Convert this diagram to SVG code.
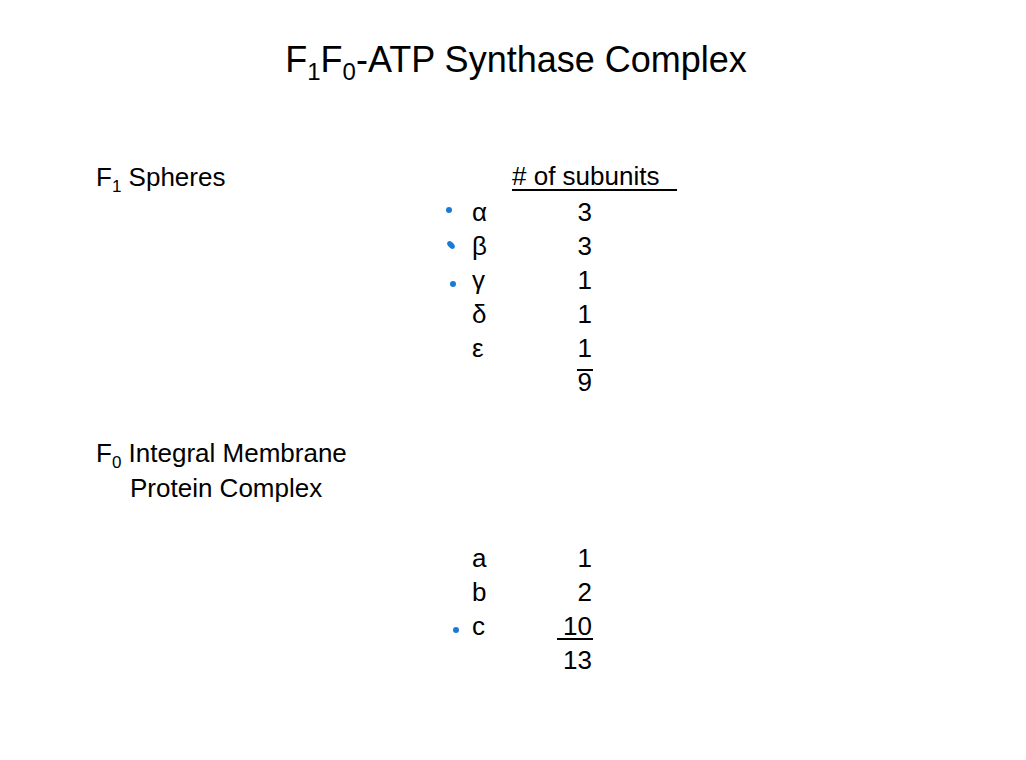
<svg xmlns="http://www.w3.org/2000/svg" width="1026" height="760" viewBox="0 0 1026 760">
<style>
text{font-family:"Liberation Sans",Arial,sans-serif;fill:#000}
.b{font-size:26px}
.t{font-size:36px}
.n{text-anchor:end}
.dot{fill:#1a7ad8}
</style>
<rect width="1026" height="760" fill="#fff"/>
<text class="t" x="516" y="72" text-anchor="middle">F<tspan font-size="24" dy="8">1</tspan><tspan dy="-8">F</tspan><tspan font-size="24" dy="8">0</tspan><tspan dy="-8">-ATP Synthase Complex</tspan></text>
<g id="f1">
<text class="b" x="96" y="186">F<tspan font-size="17" dy="6">1</tspan><tspan dy="-6"> Spheres</tspan></text>
<text class="b" x="512" y="185">#&#160;of subunits</text>
<line x1="512" y1="190" x2="677" y2="190" stroke="#000" stroke-width="2"/>
<text class="b" x="472" y="221">α</text><text class="b n" x="592" y="221">3</text>
<text class="b" x="472" y="255">β</text><text class="b n" x="592" y="255">3</text>
<text class="b" x="472" y="289">γ</text><text class="b n" x="592" y="289">1</text>
<text class="b" x="472" y="323">δ</text><text class="b n" x="592" y="323">1</text>
<text class="b" x="472" y="357">ε</text><text class="b n" x="592" y="357">1</text>
<line x1="577" y1="370" x2="593" y2="370" stroke="#000" stroke-width="2"/>
<text class="b n" x="592" y="391">9</text>
<ellipse class="dot" cx="449" cy="210" rx="3" ry="3"/>
<ellipse class="dot" cx="451" cy="245" rx="4.5" ry="2.8" transform="rotate(45 451 245)"/>
<ellipse class="dot" cx="453" cy="284" rx="3" ry="3"/>
</g>
<g id="f0">
<text class="b" x="96" y="462">F<tspan font-size="17" dy="6">0</tspan><tspan dy="-6"> Integral Membrane</tspan></text>
<text class="b" x="130" y="497">Protein Complex</text>
<text class="b" x="472" y="567">a</text><text class="b n" x="592" y="567">1</text>
<text class="b" x="472" y="601">b</text><text class="b n" x="592" y="601">2</text>
<text class="b" x="472" y="635">c</text><text class="b n" x="592" y="635">10</text>
<line x1="557" y1="639" x2="593" y2="639" stroke="#000" stroke-width="2"/>
<text class="b n" x="592" y="669">13</text>
<ellipse class="dot" cx="456" cy="630" rx="3" ry="3"/>
</g>
</svg>
